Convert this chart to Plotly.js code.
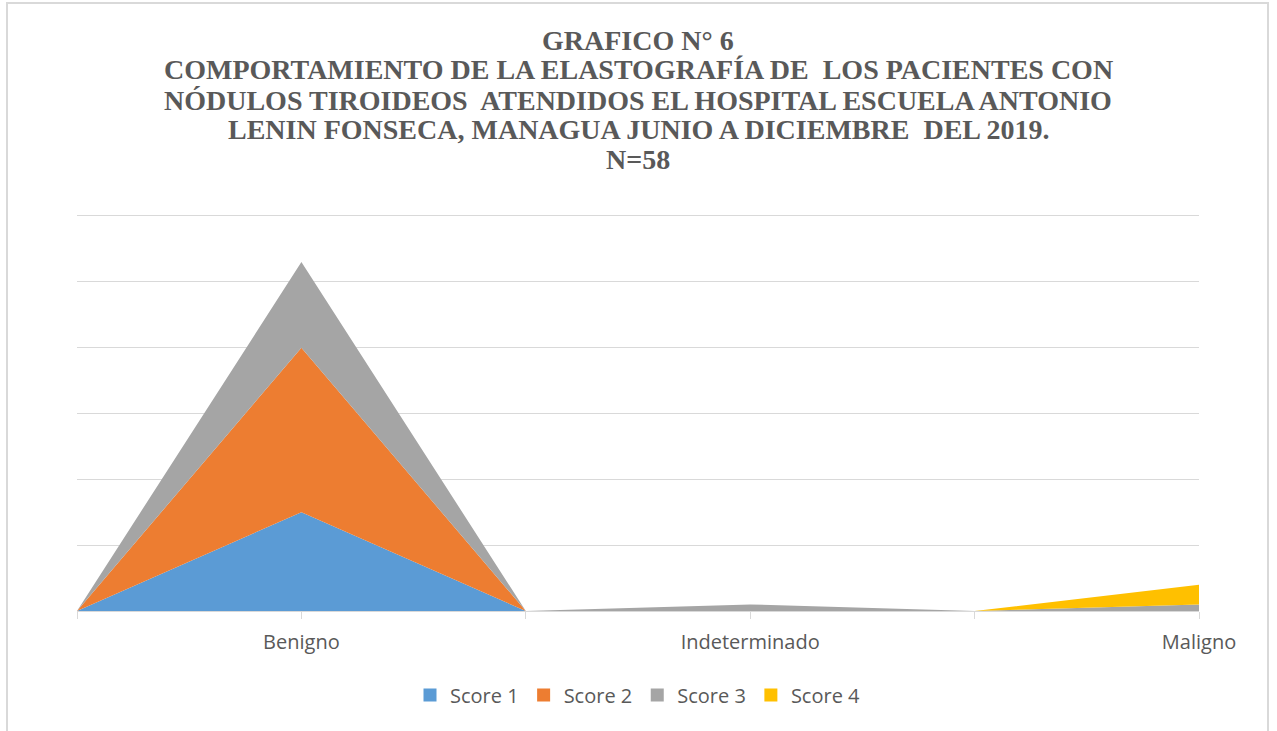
<!DOCTYPE html>
<html>
<head>
<meta charset="utf-8">
<script src="https://cdn.plot.ly/plotly-3.0.1.min.js"></script>
<style>
  html, body { margin:0; padding:0; background:#fff; overflow:hidden; }
  #frame { position:absolute; left:6px; top:2px; width:1263px; height:800px; border:2px solid #d9d9d9; box-sizing:border-box; pointer-events:none; z-index:2; }
  #chart { position:absolute; left:0; top:0; width:1277px; height:731px; }
</style>
</head>
<body>
<div id="frame"></div>
<div id="chart"></div>
<script>
// Category slots (blank slots sit between the labelled ones, as in the original)
const categories = ["", "Benigno", "", "Indeterminado", "", "Maligno"];
const score1 = [0, 15, 0, 0, 0, 0];
const score2 = [0, 25, 0, 0, 0, 0];
const score3 = [0, 13, 0, 1, 0, 1];
const score4 = [0, 0, 0, 0, 0, 3];
const seriesNames = ["Score 1", "Score 2", "Score 3", "Score 4"];
const seriesColors = ["#5B9BD5", "#ED7D31", "#A5A5A5", "#FFC000"];
const yTicks = [0, 10, 20, 30, 40, 50, 60];
const titleLines = [
  "GRAFICO N° 6",
  "COMPORTAMIENTO DE LA ELASTOGRAFÍA DE  LOS PACIENTES CON",
  "NÓDULOS TIROIDEOS  ATENDIDOS EL HOSPITAL ESCUELA ANTONIO",
  "LENIN FONSECA, MANAGUA JUNIO A DICIEMBRE  DEL 2019.",
  "N=58"
];

const W = 1277, H = 731;
const M = { l: 77, r: 78, t: 212, b: 120 };
const plotH = H - M.t - M.b;
const pxToPaperY = (py) => (H - M.b - py) / plotH;

const xIdx = categories.map((_, i) => i);
const areaTraces = [score1, score2, score3, score4].map((vals, k) => ({
  type: "scatter",
  mode: "lines",
  x: xIdx,
  y: vals,
  name: seriesNames[k],
  stackgroup: "one",
  line: { width: 0, color: seriesColors[k] },
  fillcolor: seriesColors[k],
  showlegend: false,
  hoverinfo: "skip"
}));
// legend entries with square keys (no visible marks)
const legendTraces = seriesNames.map((n, k) => ({
  type: "scatter",
  mode: "markers",
  x: [null],
  y: [null],
  name: n,
  marker: { symbol: "square", size: 13, color: seriesColors[k] },
  showlegend: true,
  hoverinfo: "skip"
}));

const titleCentersPx = [40, 70, 100, 130, 159];
const annotations = titleLines.map((t, i) => ({
  text: "<b>" + t + "</b>",
  xref: "paper", yref: "paper",
  x: 0.5, y: pxToPaperY(titleCentersPx[i]),
  xanchor: "center", yanchor: "middle",
  showarrow: false,
  font: { family: "Liberation Serif, Times New Roman, serif", size: 28, color: "#595959" }
}));

const layout = {
  width: W,
  height: H,
  margin: M,
  paper_bgcolor: "#ffffff",
  plot_bgcolor: "#ffffff",
  font: { family: "Open Sans, Liberation Sans, sans-serif", color: "#595959" },
  annotations: annotations,
  xaxis: {
    range: [0, 5],
    tickmode: "array",
    tickvals: xIdx,
    ticktext: categories,
    ticks: "outside",
    ticklen: 7,
    tickcolor: "#d9d9d9",
    tickwidth: 1,
    ticklabelstandoff: 6,
    showline: true,
    linecolor: "#d9d9d9",
    linewidth: 1,
    showgrid: false,
    zeroline: false,
    tickfont: { size: 20, color: "#595959" },
    fixedrange: true
  },
  yaxis: {
    range: [0, 60.6],
    tickmode: "array",
    tickvals: yTicks,
    showticklabels: false,
    showgrid: true,
    gridcolor: "#d9d9d9",
    gridwidth: 1,
    zeroline: false,
    showline: false,
    fixedrange: true
  },
  showlegend: true,
  legend: {
    orientation: "h",
    x: 0.5, xanchor: "center",
    y: pxToPaperY(695), yanchor: "middle",
    font: { size: 20, color: "#595959" },
    itemwidth: 30,
    traceorder: "normal"
  }
};

Plotly.newPlot("chart", areaTraces.concat(legendTraces), layout, { displayModeBar: false, staticPlot: true });
</script>
</body>
</html>
